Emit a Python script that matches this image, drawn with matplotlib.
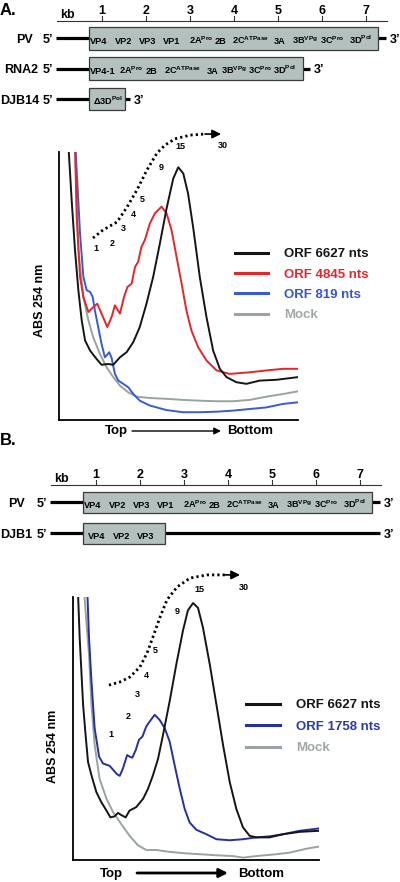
import matplotlib
matplotlib.use('Agg')
import matplotlib.pyplot as plt
from matplotlib.lines import Line2D
from matplotlib.patches import Rectangle

plt.rcParams['font.family'] = ['Liberation Sans', 'DejaVu Sans']
plt.rcParams['font.weight'] = 'bold'
plt.rcParams['mathtext.fontset'] = 'custom'
plt.rcParams['mathtext.rm'] = 'Liberation Sans:bold'
plt.rcParams['mathtext.bf'] = 'Liberation Sans:bold'
plt.rcParams['mathtext.it'] = 'Liberation Sans:bold'

# ---- genome maps (kb) ----
kb_ticks = [1, 2, 3, 4, 5, 6, 7]
pv_box = (0.70, 7.28)
pv_end = 7.45
rna2_box = (0.70, 5.57)
rna2_end = 5.73
djb14_box = (0.70, 1.52)
djb14_end = 1.64
djb1_box = (0.70, 2.57)
djb1_end = 7.45

pv_genes = ['VP4', 'VP2', 'VP3', 'VP1', r'2A$^{Pro}$', '2B', r'2C$^{ATPase}$',
            '3A', r'3B$^{VPg}$', r'3C$^{Pro}$', r'3D$^{Pol}$']
pv_gene_x = [0.72, 1.30, 1.84, 2.39, 2.98, 3.57, 3.95, 4.91, 5.32, 5.95, 6.61]
rna2_genes = ['VP4-1', r'2A$^{Pro}$', '2B', r'2C$^{ATPase}$', '3A',
              r'3B$^{VPg}$', r'3C$^{Pro}$', r'3D$^{Pol}$']
rna2_gene_x = [0.72, 1.39, 2.00, 2.41, 3.39, 3.70, 4.32, 4.89]
djb14_genes = [r'Δ3D$^{Pol}$']
djb14_gene_x = [0.80]
djb1_genes = ['VP4', 'VP2', 'VP3']
djb1_gene_x = [0.82, 1.39, 1.93]

# ---- sucrose gradient profiles, panel A ----
a_black_x = [3.9, 5.3, 6.7, 8.1, 9.5, 10.9, 13.0, 15.7, 17.8, 20.6, 22.7, 25.5, 28.3, 31.1,
             33.8, 36.6, 39.4, 42.2, 45.0, 47.8, 49.9, 52.0, 54.0, 56.1, 58.9, 61.7, 64.5,
             67.3, 70.1, 74.2, 78.4, 84.0, 90.9, 100]
a_black_y = [103, 82, 63.3, 48.4, 37.2, 29.7, 25.9, 22.8, 20.6, 20.9, 20.6, 23.4, 25.3, 29.1,
             34.7, 43.4, 53.4, 65.8, 78.9, 90.1, 94.3, 92.0, 84.5, 72.1, 53.4, 38.4, 25.9,
             19.1, 16.0, 14.1, 13.5, 14.7, 15.0, 16.0]
a_red_x = [6.7, 7.4, 8.8, 10.2, 12.3, 14.3, 16.0, 17.8, 20.2, 22.0, 23.4, 25.5, 27.2, 28.6,
           30.4, 31.8, 33.1, 34.5, 35.9, 38.0, 40.1, 42.9, 45.0, 47.1, 49.2, 51.3, 53.3,
           55.4, 58.2, 61.7, 65.9, 71.4, 79.8, 86.8, 93.7, 100]
a_red_y = [103, 75.8, 53.4, 45.9, 40.3, 42.1, 43.4, 39.7, 34.7, 38.4, 42.8, 39.7, 45.9, 49.6,
           50.9, 57.1, 59.0, 64.6, 67.1, 73.3, 77.1, 79.6, 77.1, 70.8, 60.8, 50.9, 40.9,
           33.4, 27.2, 22.2, 18.5, 17.2, 17.8, 18.5, 19.1, 19.1]
a_blue_x = [6.8, 8.8, 10.2, 11.6, 13.0, 14.1, 15.0, 16.4, 17.8, 19.2, 20.2, 21.0, 22.0, 23.4,
            24.8, 26.9, 29.0, 31.1, 33.8, 38.0, 45.0, 51.9, 58.9, 65.9, 72.8, 79.8, 86.8,
            93.7, 100]
a_blue_y = [103, 69.6, 53.4, 48.4, 47.8, 45.9, 40.9, 34.7, 28.4, 23.4, 24.4, 25.3, 23.2, 17.2,
            14.7, 13.5, 12.2, 9.7, 7.2, 5.4, 3.7, 2.9, 2.9, 3.1, 3.5, 4.1, 4.7, 6.0, 6.6]
a_mock_x = [6.7, 7.4, 8.1, 10.2, 12.3, 14.3, 17.1, 19.9, 22.7, 25.5, 29.0, 32.5, 38.0, 45.0,
            51.9, 58.9, 65.9, 72.8, 79.8, 86.8, 93.7, 100]
a_mock_y = [103, 82.0, 63.3, 45.9, 37.2, 30.9, 24.7, 19.7, 16.0, 12.8, 10.3, 8.7, 8.2, 7.9,
            7.5, 7.2, 7.0, 7.0, 7.5, 8.7, 9.7, 10.7]
a_dots_x = [14.2, 18.4, 24.3, 28.5, 32.6, 36.8, 41.0, 44.4, 48.5, 54.8, 61.1]
a_dots_y = [67.9, 70.9, 73.9, 79.5, 85.8, 93.3, 99.6, 102.6, 104.9, 106.3, 106.7]
a_frac_labels = ['1', '2', '3', '4', '5', '9', '15', '30']
a_frac_x = [15.5, 22.2, 26.8, 31.0, 34.7, 42.7, 50.6, 68.6]
a_frac_y = [63.9, 65.8, 71.4, 76.6, 82.2, 94.4, 102.2, 102.6]

# ---- panel B ----
b_black_x = [2.0, 2.7, 3.4, 4.1, 5.0, 6.1, 7.5, 9.5, 11.5, 13.6, 15.2, 16.9, 18.3, 19.6, 21.4,
             23.0, 25.7, 28.5, 30.5, 32.5, 34.6, 36.6, 39.3, 42.0, 44.7, 46.7, 48.8, 50.8,
             52.8, 55.6, 58.3, 61.0, 63.7, 66.4, 69.1, 71.8, 74.5, 79.9, 85.4, 92.1, 100]
b_black_y = [102.6, 84.7, 71.9, 59.1, 48.8, 37.3, 32.2, 25.8, 22.0, 18.8, 16.2, 16.6, 17.9,
             17.1, 16.2, 18.8, 20.1, 23.3, 27.1, 32.2, 38.6, 47.6, 60.4, 74.4, 87.2, 94.9,
             97.7, 95.9, 88.5, 74.4, 59.1, 43.7, 29.7, 19.4, 12.4, 9.2, 8.6, 8.6, 9.8, 10.7,
             11.1]
b_blue_x = [5.8, 6.5, 7.5, 8.8, 10.6, 12.2, 14.9, 16.5, 17.9, 19.0, 20.3, 22.0, 23.0, 24.1,
            25.5, 26.8, 28.2, 29.8, 31.2, 33.2, 35.2, 37.3, 39.3, 41.3, 43.4, 45.4, 47.4,
            50.1, 54.2, 58.3, 63.7, 69.1, 74.5, 79.9, 85.4, 92.1, 100]
b_blue_y = [102.6, 84.7, 68.0, 50.1, 39.3, 36.7, 35.8, 34.1, 32.6, 32.0, 34.8, 39.9, 39.3,
            38.9, 41.8, 45.7, 46.9, 50.8, 52.7, 55.2, 53.3, 50.1, 45.0, 36.1, 27.1, 19.4,
            14.3, 11.5, 9.8, 7.9, 7.5, 7.9, 8.6, 9.0, 9.8, 11.1, 12.0]
b_mock_x = [4.5, 5.4, 6.5, 7.5, 8.8, 10.8, 13.6, 16.3, 19.6, 23.0, 26.4, 29.8, 33.9, 39.3,
            44.7, 51.5, 58.3, 65.0, 69.1, 74.5, 82.7, 88.1, 94.9, 100]
b_mock_y = [102.6, 91.0, 78.3, 59.1, 43.7, 30.9, 23.3, 18.2, 13.7, 9.2, 5.6, 3.8, 3.8, 3.1,
            2.6, 2.2, 1.8, 1.5, 0.9, 1.5, 2.2, 2.8, 4.3, 5.1]
b_dots_x = [14.6, 19.1, 23.2, 27.2, 30.1, 32.5, 35.4, 38.2, 42.3, 47.6, 54.5, 61.8]
b_dots_y = [66.5, 67.7, 69.6, 73.4, 78.7, 84.8, 92.4, 98.9, 103.8, 107.2, 108.4, 108.4]
b_frac_labels = ['1', '2', '3', '4', '5', '9', '15', '30']
b_frac_x = [15.4, 22.4, 26.0, 29.7, 33.3, 42.3, 51.2, 69.5]
b_frac_y = [47.9, 54.4, 63.1, 70.0, 79.5, 94.3, 103.0, 103.8]

BLACK = '#151515'
RED = '#e5262b'
BLUE_A = '#3a5bd0'
BLUE_B = '#26309e'
GREY = '#99a3a1'
BOX = '#b3c0bd'

fig = plt.figure(figsize=(4, 8.82), dpi=100)


def px_axes(l, t, r, b):
    return fig.add_axes([l / 400, 1 - b / 882, (r - l) / 400, (b - t) / 882])


def fx(px):
    return px / 400


def fy(py):
    return 1 - py / 882


def draw_row(ax, y, box, end, genes, gene_x, name, name_x, half_h):
    ax.plot([-0.05, box[0]], [y, y], color='k', lw=2.3, solid_capstyle='butt')
    ax.plot([box[1], end], [y, y], color='k', lw=2.3, solid_capstyle='butt')
    ax.add_patch(Rectangle((box[0], y - half_h), box[1] - box[0], 2 * half_h,
                           facecolor=BOX, edgecolor='#3a3a3a', lw=0.9, zorder=3))
    for g, gx in zip(genes, gene_x):
        ax.text(gx, y + 6, g, fontsize=6.6, ha='left', va='baseline', zorder=4)
    ax.text(name_x, y + 4.6, name, fontsize=9, ha='left', va='baseline',
            transform=ax.get_yaxis_transform())
    ax.text(-0.12, y + 4.6, '5\u2019', fontsize=9, ha='right', va='baseline')
    ax.text(end + 0.08, y + 4.6, '3\u2019', fontsize=9, ha='left', va='baseline')


def draw_scale(ax, y, label_y):
    ax.plot([-0.03, 7.48], [y, y], color='#333333', lw=0.8)
    for t in kb_ticks:
        ax.plot([t, t], [y, y - 5], color='#333333', lw=0.8)
        ax.text(t, label_y, str(t), fontsize=9, ha='center', va='baseline')
    ax.text(0.05, y - 2.5, 'kb', fontsize=9, ha='left', va='baseline')


# ---------- panel A map ----------
mapA = px_axes(0, 0, 400, 120)
mapA.set_xlim(-58 / 44, 342 / 44)
mapA.set_ylim(120, 0)
mapA.axis('off')
mapA.text(0, 15, 'A.', fontsize=12, ha='left', va='baseline',
          transform=mapA.get_yaxis_transform())
draw_scale(mapA, 21, 14)
draw_row(mapA, 38, pv_box, pv_end, pv_genes, pv_gene_x, 'PV', fx(16), 11.5)
draw_row(mapA, 68.5, rna2_box, rna2_end, rna2_genes, rna2_gene_x, 'RNA2', fx(4), 11.5)
draw_row(mapA, 99, djb14_box, djb14_end, djb14_genes, djb14_gene_x, 'DJB14', fx(0), 11)

# ---------- panel B map ----------
mapB = px_axes(0, 430, 400, 560)
mapB.set_xlim(-52 / 44, 348 / 44)
mapB.set_ylim(130, 0)
mapB.axis('off')
mapB.text(0, 15, 'B.', fontsize=12, ha='left', va='baseline',
          transform=mapB.get_yaxis_transform())
draw_scale(mapB, 55, 48)
draw_row(mapB, 72.5, pv_box, pv_end, pv_genes, pv_gene_x, 'PV', fx(8), 10.5)
draw_row(mapB, 103, djb1_box, djb1_end, djb1_genes, djb1_gene_x, 'DJB1', fx(0), 10.5)


def style_chart(ax):
    ax.set_xlim(0, 100)
    ax.set_ylim(0, 100)
    for s in ['top', 'right']:
        ax.spines[s].set_visible(False)
    for s in ['left', 'bottom']:
        ax.spines[s].set_linewidth(1.3)
    ax.set_xticks([])
    ax.set_yticks([])
    ax.patch.set_alpha(0)


def draw_dots(ax, xs, ys, tip_x, labels, lx, ly):
    ax.plot(xs, ys, color='k', lw=2, linestyle=(0, (0.8, 1.1)), clip_on=False)
    ax.annotate('', xy=(tip_x, ys[-1]), xytext=(xs[-1], ys[-1]), annotation_clip=False,
                arrowprops=dict(arrowstyle='-|>', color='k', lw=1.2, mutation_scale=13,
                                shrinkA=0, shrinkB=0))
    for t, x, y in zip(labels, lx, ly):
        ax.text(x, y, t, fontsize=6.5, ha='center', va='center', clip_on=False)


# ---------- chart A ----------
axA = px_axes(59, 152, 298, 420)
style_chart(axA)
axA.plot(a_mock_x, a_mock_y, color=GREY, lw=1.4)
axA.plot(a_blue_x, a_blue_y, color=BLUE_A, lw=1.4)
axA.plot(a_red_x, a_red_y, color=RED, lw=1.4)
axA.plot(a_black_x, a_black_y, color=BLACK, lw=1.4)
draw_dots(axA, a_dots_x, a_dots_y, 67.8, a_frac_labels, a_frac_x, a_frac_y)

hA = [Line2D([], [], color=c, lw=2.2) for c in [BLACK, RED, BLUE_A, GREY]]
axA.legend(hA, ['ORF 6627 nts', 'ORF 4845 nts', 'ORF 819 nts', 'Mock'],
           labelcolor=[BLACK, RED, '#3a55c8', '#a0a8a6'],
           loc='upper left', bbox_to_anchor=(fx(235), fy(248)), bbox_transform=fig.transFigure,
           frameon=False, borderpad=0, borderaxespad=0, handlelength=2.5,
           handletextpad=1.2, labelspacing=0.62, prop={'size': 9.5, 'weight': 'bold'})

fig.text(fx(40), fy(300), 'ABS 254 nm', fontsize=9, rotation=90, ha='center', va='center')
fig.text(fx(105), fy(431), 'Top', fontsize=9.5, ha='left', va='center')
fig.text(fx(227), fy(431), 'Bottom', fontsize=9.5, ha='left', va='center')
axA.annotate('', xy=(fx(221), fy(431)), xytext=(fx(132), fy(431)), xycoords='figure fraction',
             textcoords='figure fraction', annotation_clip=False,
             arrowprops=dict(arrowstyle='-|>', color='k', lw=1.0, mutation_scale=10,
                             shrinkA=0, shrinkB=0))

# ---------- chart B ----------
axB = px_axes(73, 597, 319, 860)
style_chart(axB)
axB.plot(b_mock_x, b_mock_y, color=GREY, lw=1.4)
axB.plot(b_blue_x, b_blue_y, color=BLUE_B, lw=1.4)
axB.plot(b_black_x, b_black_y, color=BLACK, lw=1.4)
draw_dots(axB, b_dots_x, b_dots_y, 67.9, b_frac_labels, b_frac_x, b_frac_y)

hB = [Line2D([], [], color=c, lw=2.2) for c in [BLACK, BLUE_B, GREY]]
axB.legend(hB, ['ORF 6627 nts', 'ORF 1758 nts', 'Mock'],
           labelcolor=[BLACK, '#2b3aa8', '#a0a8a6'],
           loc='upper left', bbox_to_anchor=(fx(246), fy(699)), bbox_transform=fig.transFigure,
           frameon=False, borderpad=0, borderaxespad=0, handlelength=2.6,
           handletextpad=1.2, labelspacing=0.7, prop={'size': 9.5, 'weight': 'bold'})

fig.text(fx(53), fy(746), 'ABS 254 nm', fontsize=9, rotation=90, ha='center', va='center')
fig.text(fx(100), fy(874), 'Top', fontsize=9.5, ha='left', va='center')
fig.text(fx(238), fy(874), 'Bottom', fontsize=9.5, ha='left', va='center')
axB.annotate('', xy=(fx(228), fy(873)), xytext=(fx(137), fy(873)), xycoords='figure fraction',
             textcoords='figure fraction', annotation_clip=False,
             arrowprops=dict(arrowstyle='-|>', color='k', lw=2.0, mutation_scale=13,
                             shrinkA=0, shrinkB=0))

fig.savefig('out.png', dpi=100)
